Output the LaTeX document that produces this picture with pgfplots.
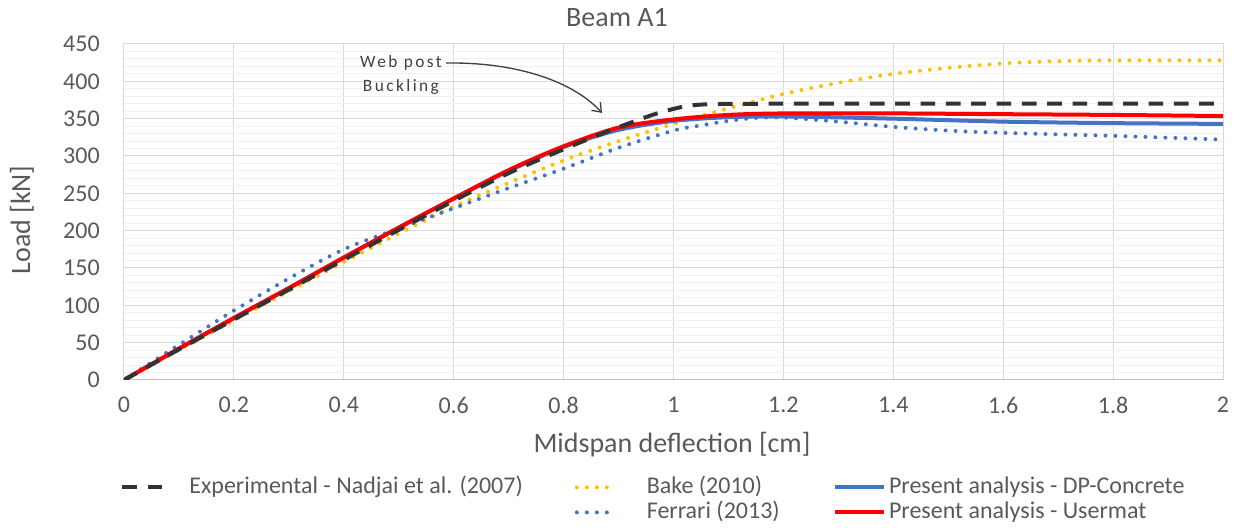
\documentclass[border=0pt]{standalone}
\usepackage{pgfplots}
\pgfplotsset{compat=1.18}
\usepackage{fontspec}
\setmainfont{Carlito}
\newfontfamily\annfont{Carlito}[LetterSpace=14]
\usetikzlibrary{arrows.meta}

\definecolor{txt}{HTML}{595959}
\definecolor{anncol}{HTML}{404040}
\definecolor{gridmaj}{HTML}{D9D9D9}
\definecolor{gridmin}{HTML}{F0F0F0}
\definecolor{axisline}{HTML}{BFBFBF}
\definecolor{expcol}{HTML}{333333}
\definecolor{bakecol}{HTML}{FFC000}
\definecolor{ferrcol}{HTML}{4472C4}
\definecolor{dpcol}{HTML}{4472C4}
\definecolor{usercol}{HTML}{FF0000}

\tikzset{
  dotline/.style={line width=3pt, line cap=round, dash pattern=on 0pt off 7.5pt},
  dashline/.style={line width=3pt, dash pattern=on 11pt off 8pt},
}
\pgfplotsset{
  leg short/.style={legend image code/.code={\draw[##1] (0pt,0pt) -- (30pt,0pt);}},
  leg long/.style={legend image code/.code={\draw[##1] (0pt,0pt) -- (36.75pt,0pt);}},
}

\begin{document}
\begin{tikzpicture}
\useasboundingbox (-93pt,-111pt) rectangle (836.25pt,285pt);
\begin{axis}[
  at={(0,0)}, anchor=south west, scale only axis,
  width=824.25pt, height=252pt,
  xmin=0, xmax=2, ymin=0, ymax=450,
  xtick={0,0.2,...,2.01}, ytick={0,50,...,450},
  minor y tick num=4,
  grid=both,
  major grid style={draw=gridmaj, line width=0.75pt},
  minor grid style={draw=gridmin, line width=0.75pt},
  tick style={draw=none},
  axis line style={draw=gridmaj, line width=0.75pt},
  /pgf/number format/assume math mode=true,
  ticklabel style={font=\fontsize{18}{20}\selectfont, text=txt},
  yticklabel style={inner sep=0pt, anchor=east, xshift=-18pt},
  xticklabel style={inner sep=0pt, anchor=north, yshift=-12.75pt},
  legend columns=3,
  legend cell align=left,
  legend style={
    at={(axis description cs:-0.0036,-0.285)}, anchor=north west,
    draw=none, fill=none, inner sep=0pt,
    font=\fontsize{18}{20}\selectfont, text=txt,
    nodes={inner sep=0pt, text height=13pt, text depth=4pt},
    row sep=1.75pt,
    /tikz/column 1/.style={column sep=18.75pt},
    /tikz/column 2/.style={column sep=39pt},
    /tikz/column 3/.style={column sep=21pt},
    /tikz/column 4/.style={column sep=40pt},
    /tikz/column 5/.style={column sep=2.25pt},
  },
]
% bottom axis line
\draw[axisline, line width=0.75pt] (rel axis cs:0,0) -- (rel axis cs:1,0);

% Bake (2010)
\addplot[bakecol, dotline, smooth, forget plot] coordinates {
  (0,0) (0.1,40) (0.2,80) (0.3,119) (0.4,158) (0.5,196) (0.6,232)
  (0.7,264) (0.8,294) (0.9,320) (1.0,343) (1.1,364) (1.2,383)
  (1.3,398) (1.4,410) (1.5,418) (1.6,424) (1.7,427) (1.8,428)
  (1.9,428) (2.0,428)
};
% Ferrari (2013)
\addplot[ferrcol, dotline, smooth, forget plot] coordinates {
  (0,0) (0.1,47) (0.2,93) (0.3,136) (0.4,175) (0.5,203) (0.6,230)
  (0.7,257) (0.8,283) (0.9,311) (1.0,334) (1.05,341) (1.1,347)
  (1.15,351) (1.2,351.5) (1.3,346) (1.4,339) (1.5,334) (1.6,331)
  (1.7,329) (1.8,327) (1.9,324.5) (2.0,322)
};
% Present analysis - DP-Concrete
\addplot[dpcol, line width=3pt, smooth, forget plot] coordinates {
  (0,0) (0.1,42) (0.2,83) (0.3,123) (0.4,164) (0.5,204) (0.6,243)
  (0.7,280) (0.8,312) (0.9,335) (1.0,347) (1.1,352) (1.2,353)
  (1.4,350) (1.6,346) (1.8,344) (2.0,343)
};
% Present analysis - Usermat
\addplot[usercol, line width=3pt, smooth, forget plot] coordinates {
  (0,0) (0.1,42) (0.2,83) (0.3,123) (0.4,164) (0.5,204) (0.6,243)
  (0.7,281) (0.8,313) (0.9,338) (1.0,349) (1.1,355) (1.2,357)
  (1.4,357) (1.6,356) (1.8,355) (2.0,353.5)
};
% Experimental - Nadjai et al. (2007)
\addplot[expcol, dashline, smooth, forget plot] coordinates {
  (0,0) (0.1,41) (0.2,81) (0.3,121) (0.4,161) (0.5,201) (0.6,240)
  (0.7,277) (0.8,309) (0.87,330) (0.92,344) (0.97,357) (1.025,367)
  (1.08,369.6) (1.2,370) (1.4,370) (1.6,370) (1.8,370) (2.0,370)
};

% legend, row by row
\addlegendimage{expcol, dashline, leg short}
\addlegendentry{Experimental - Nadjai et al. (2007)}
\addlegendimage{bakecol, dotline, leg short}
\addlegendentry{Bake (2010)}
\addlegendimage{dpcol, line width=3pt, leg long}
\addlegendentry{Present analysis - DP-Concrete}
\addlegendimage{empty legend}
\addlegendentry{}
\addlegendimage{ferrcol, dotline, leg short}
\addlegendentry{Ferrari (2013)}
\addlegendimage{usercol, line width=3pt, leg long}
\addlegendentry{Present analysis - Usermat}

% annotation
\node[align=center, text=anncol, font=\annfont\fontsize{13}{18}\selectfont]
  at (axis cs:0.504,409) {Web post\\Buckling};
\draw[anncol, line width=1pt, -{Straight Barb[length=6pt,width=9pt]}]
  (axis cs:0.586,424.5) .. controls (axis cs:0.72,426) and (axis cs:0.82,398) .. (axis cs:0.870,357.6);
\end{axis}

% titles
\node[anchor=base, text=txt, font=\fontsize{21}{24}\selectfont] at (369.75pt,264.75pt) {Beam A1};
\node[anchor=base, text=txt, font=\fontsize{21}{24}\selectfont] at (411pt,-54.75pt) {Midspan deflection [cm]};
\node[rotate=90, text=txt, font=\fontsize{21}{24}\selectfont] at (-76.5pt,120pt) {Load [kN]};
\end{tikzpicture}
\end{document}
